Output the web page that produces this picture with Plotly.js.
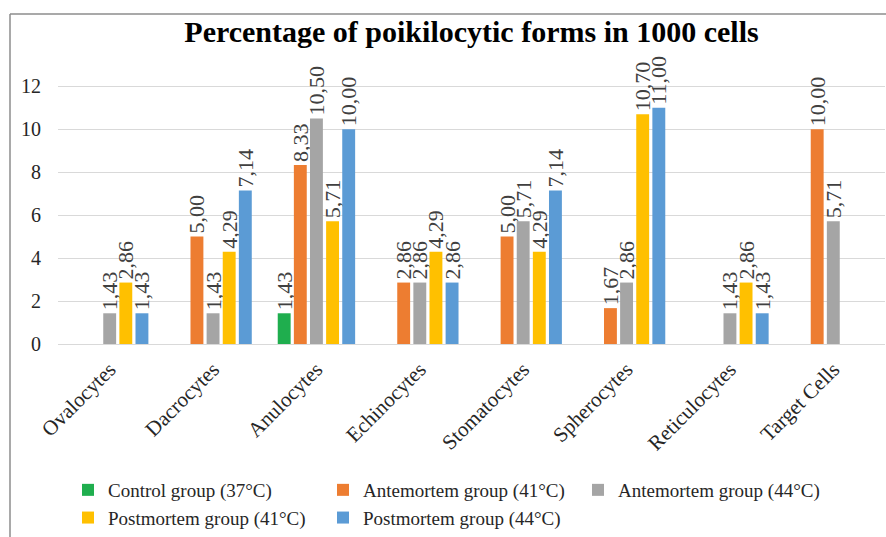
<!DOCTYPE html>
<html>
<head>
<meta charset="utf-8">
<script src="https://cdn.plot.ly/plotly-3.0.1.min.js"></script>
<style>
  html, body { margin: 0; padding: 0; background: #fff; }
  #chart { width: 886px; height: 537px; }
</style>
</head>
<body>
<div id="chart"></div>
<script>
const categories = ["Ovalocytes", "Dacrocytes", "Anulocytes", "Echinocytes", "Stomatocytes", "Spherocytes", "Reticulocytes", "Target Cells"];
const control37 = [null, null, 1.43, null, null, null, null, null];
const antemortem41 = [null, 5.00, 8.33, 2.86, 5.00, 1.67, null, 10.00];
const antemortem44 = [1.43, 1.43, 10.50, 2.86, 5.71, 2.86, 1.43, 5.71];
const postmortem41 = [2.86, 4.29, 5.71, 4.29, 4.29, 10.70, 2.86, null];
const postmortem44 = [1.43, 7.14, 10.00, 2.86, 7.14, 11.00, 1.43, null];
const seriesNames = ["Control group (37°C)", "Antemortem group (41°C)", "Antemortem group (44°C)", "Postmortem group (41°C)", "Postmortem group (44°C)"];
const seriesColors = ["#1fae4e", "#ed7d31", "#a5a5a5", "#ffc000", "#5b9bd5"];
const yTicks = [0, 2, 4, 6, 8, 10, 12];

const serif = '"Liberation Serif", "Times New Roman", serif';
const seriesValues = [control37, antemortem41, antemortem44, postmortem41, postmortem44];

const traces = seriesValues.map((vals, i) => ({
  type: "bar",
  name: seriesNames[i],
  x: categories,
  y: vals,
  marker: { color: seriesColors[i] },
  texttemplate: "%{y:.2f}",
  textposition: "outside",
  textangle: -90,
  constraintext: "none",
  cliponaxis: false,
  textfont: { family: serif, size: 22, color: "#404040" },
  hoverinfo: "x+y"
}));

const W = 886, H = 537;
const mL = 58, mR = 1, mT = 54, mB = 193;
const pw = W - mL - mR, ph = H - mT - mB;
const px2x = p => (p - mL) / pw;
const px2y = p => (H - mB - p) / ph;

const layout = {
  width: W, height: H,
  margin: { l: mL, r: mR, t: mT, b: mB, autoexpand: false },
  paper_bgcolor: "#ffffff",
  plot_bgcolor: "#ffffff",
  separators: ",.",
  barmode: "group",
  bargap: 0.22,
  bargroupgap: 0.2,
  title: {
    text: "<b>Percentage of poikilocytic forms in 1000 cells</b>",
    font: { family: serif, size: 30, color: "#000000" },
    x: 0.5, xref: "paper", xanchor: "center",
    y: 1 - 31 / H, yref: "container", yanchor: "middle"
  },
  xaxis: {
    type: "category",
    automargin: false,
    tickangle: -45,
    tickfont: { family: serif, size: 21, color: "#262626" },
    showgrid: false,
    showline: false,
    zeroline: false,
    ticks: "",
    ticklabelstandoff: 8
  },
  yaxis: {
    automargin: false,
    range: [0, 13.5],
    tickvals: yTicks,
    ticktext: yTicks.map(String),
    tickfont: { family: serif, size: 20, color: "#262626" },
    showgrid: true,
    gridcolor: "#d9d9d9",
    gridwidth: 1,
    zeroline: true,
    zerolinecolor: "#d9d9d9",
    zerolinewidth: 1,
    showline: false,
    ticks: "",
    ticklabelstandoff: 16
  },
  showlegend: true,
  legend: {
    orientation: "h",
    x: px2x(68), xanchor: "left",
    y: px2y(471), yanchor: "top",
    entrywidth: 210,
    entrywidthmode: "pixels",
    font: { family: serif, size: 19, color: "#262626" },
    traceorder: "normal",
    itemclick: false
  },
  shapes: [
    { type: "line", xref: "paper", yref: "paper", x0: px2x(10), x1: px2x(10), y0: px2y(14), y1: px2y(540), line: { color: "#8c8c8c", width: 1.5 } },
    { type: "line", xref: "paper", yref: "paper", x0: px2x(10), x1: px2x(890), y0: px2y(14), y1: px2y(14), line: { color: "#8c8c8c", width: 1.5 } }
  ]
};

Plotly.newPlot("chart", traces, layout, { displayModeBar: false, staticPlot: true });
</script>
</body>
</html>
